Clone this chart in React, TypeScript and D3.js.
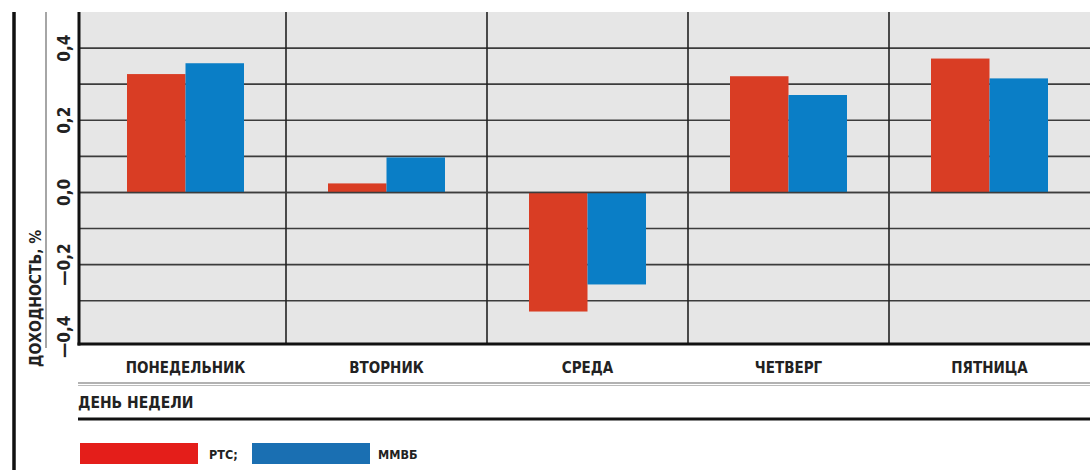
import React from "react";
import * as d3 from "d3";

// Weekday returns of two Russian stock indices, percent
const days = ["ПОНЕДЕЛЬНИК", "ВТОРНИК", "СРЕДА", "ЧЕТВЕРГ", "ПЯТНИЦА"];
const rtsValues = [0.328, 0.025, -0.33, 0.322, 0.371];
const micexValues = [0.358, 0.097, -0.255, 0.27, 0.316];
const seriesNames = ["РТС", "ММВБ"];
const yTickLabels = [0.4, 0.2, 0, -0.2, -0.4];
const gridValues = [0.4, 0.3, 0.2, 0.1, 0, -0.1, -0.2, -0.3];

const W = 1090;
const H = 470;
const FONT = "'DejaVu Sans Condensed', 'Liberation Sans Narrow', sans-serif";
const RED = "#d93d24";
const BLUE = "#0a7ec6";

export default function App() {
  const plotLeft = 79;
  const plotTop = 12;
  const plotBottom = 344;

  const x = d3.scaleBand<string>().domain(days).range([85, 1090]).paddingInner(0).paddingOuter(0);
  const y = d3.scaleLinear().domain([-0.42, 0.5]).range([plotBottom, plotTop]);
  const barW = 58.5;

  const fmt = (v: number) => {
    const s = Math.abs(v).toFixed(1).replace(".", ",");
    return v < 0 ? "\u2014" + s : s;
  };

  const series = [
    { name: seriesNames[0], values: rtsValues, color: RED, offset: -barW },
    { name: seriesNames[1], values: micexValues, color: BLUE, offset: 0 },
  ];

  return (
    <svg
      width={W}
      height={H}
      style={{ position: "absolute", left: 0, top: 0, background: "#fff" }}
      fontFamily={FONT}
    >
      {/* plot background */}
      <rect x={plotLeft} y={plotTop} width={W - plotLeft} height={plotBottom - plotTop} fill="#e6e6e6" />

      {/* horizontal grid */}
      {gridValues.map((v) => (
        <line key={v} x1={plotLeft} x2={W} y1={y(v)} y2={y(v)} stroke="#3c3c3c" strokeWidth={1.6} />
      ))}

      {/* category separators */}
      {days.slice(1).map((d) => (
        <line key={d} x1={x(d)!} x2={x(d)!} y1={plotTop} y2={plotBottom} stroke="#222" strokeWidth={1.6} />
      ))}

      {/* bars */}
      {series.map((s) =>
        s.values.map((v, i) => {
          const cx = x(days[i])! + x.bandwidth() / 2;
          const y0 = y(0);
          const y1 = y(v);
          return (
            <rect
              key={s.name + i}
              x={cx + s.offset}
              y={Math.min(y0, y1)}
              width={barW}
              height={Math.abs(y1 - y0)}
              fill={s.color}
            />
          );
        })
      )}

      {/* zero line over bars */}
      <line x1={plotLeft} x2={W} y1={y(0)} y2={y(0)} stroke="#3c3c3c" strokeWidth={1.6} />

      {/* axes frame */}
      <line x1={plotLeft} x2={plotLeft} y1={plotTop} y2={plotBottom + 1.5} stroke="#111" strokeWidth={3} />
      <line x1={plotLeft - 1.5} x2={W} y1={plotBottom} y2={plotBottom} stroke="#111" strokeWidth={3} />

      {/* y tick labels */}
      {yTickLabels.map((v) => (
        <text
          key={v}
          transform={`translate(70,${y(v)}) rotate(-90)`}
          textAnchor="middle"
          fontSize={17}
          fontWeight="bold"
          fill="#222"
        >
          {fmt(v)}
        </text>
      ))}

      {/* y axis title band */}
      <line x1={14} x2={14} y1={plotTop} y2={H} stroke="#111" strokeWidth={3.5} />
      <line x1={46} x2={46} y1={plotTop} y2={348} stroke="#888" strokeWidth={1.5} />
      <text
        transform="translate(41,367) rotate(-90)"
        textAnchor="start"
        fontSize={15.5}
        fontWeight="bold"
        fill="#222"
      >
        ДОХОДНОСТЬ, %
      </text>

      {/* x tick labels */}
      {days.map((d) => (
        <text
          key={d}
          x={x(d)! + x.bandwidth() / 2}
          y={373}
          textAnchor="middle"
          fontSize={15}
          fontWeight="bold"
          fill="#222"
        >
          {d}
        </text>
      ))}

      {/* x axis title band */}
      <line x1={78} x2={W} y1={383} y2={383} stroke="#999" strokeWidth={1.5} />
      <line x1={78} x2={W} y1={385.5} y2={385.5} stroke="#bbb" strokeWidth={1} />
      <text x={78} y={408} fontSize={15.5} fontWeight="bold" fill="#222">
        ДЕНЬ НЕДЕЛИ
      </text>
      <line x1={78} x2={W} y1={419} y2={419} stroke="#111" strokeWidth={3} />

      {/* legend */}
      <rect x={80} y={443} width={118} height={21} fill="#e41e1a" />
      <text x={209} y={459} fontSize={12.5} fontWeight="bold" fill="#222">
        {seriesNames[0]};
      </text>
      <rect x={252} y={443} width={118} height={21} fill="#1a6fb2" />
      <text x={378} y={459} fontSize={12.5} fontWeight="bold" fill="#222">
        {seriesNames[1]}
      </text>
    </svg>
  );
}
